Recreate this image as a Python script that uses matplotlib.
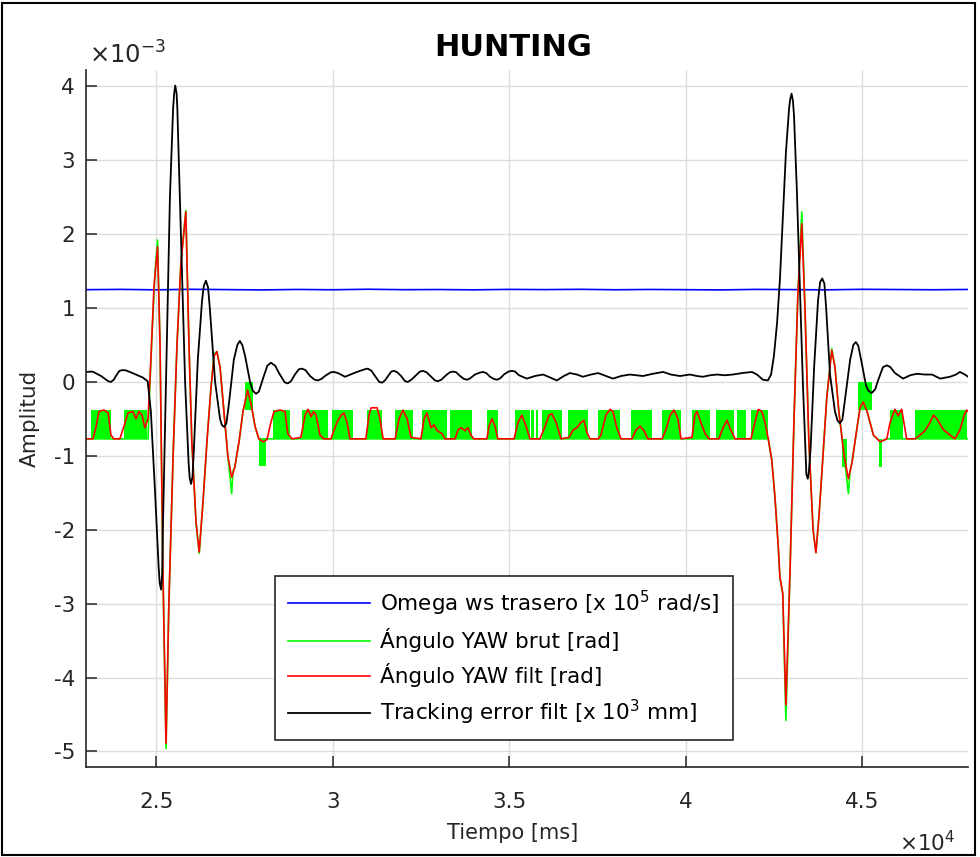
import matplotlib
matplotlib.use("Agg")
import matplotlib.pyplot as plt
from matplotlib.ticker import FuncFormatter, FixedLocator
from matplotlib.patches import Rectangle

plt.rcParams['font.family'] = ['DejaVu Sans']
plt.rcParams['mathtext.fontset'] = 'dejavusans'

# amplitudes below are given in units of 1e-3
UNIT = 1e-3

# Omega ws trasero [x 1e5 rad/s]
omega_t = [23000, 24000, 25000, 26000, 27000, 28000, 29000, 30000, 31000,
           32000, 33000, 34000, 35000, 36000, 37000, 38000, 39000, 40000,
           41000, 42000, 43000, 44000, 45000, 46000, 47000, 48000]
omega_v = [1.248, 1.252, 1.246, 1.253, 1.249, 1.245, 1.251, 1.247, 1.254,
           1.248, 1.250, 1.246, 1.252, 1.249, 1.253, 1.247, 1.251, 1.248,
           1.245, 1.252, 1.249, 1.246, 1.253, 1.250, 1.247, 1.251]

# Angulo YAW bruto [rad]: event excursions of the raw signal
yaw_raw_t = [23000, 24770, 24810, 24880, 24970, 25040, 25110, 25190, 25280,
             25360, 25480, 25590, 25700, 25840, 25930, 26010, 26130, 26220,
             26330, 26440, 26550, 26640, 26720, 26810, 26920, 27030, 27140,
             27180, 27230, 27350, 27460, 27590, 27690, 27800, 27910, 42340,
             42440, 42530, 42620, 42670, 42750, 42840, 42960, 43070, 43180,
             43290, 43380, 43490, 43610, 43690, 43780, 43890, 44000, 44140,
             44230, 44340, 44490, 44610, 44660, 44710, 44830, 44940, 45030,
             45140, 45320, 45510, 45700, 48000]
yaw_raw_v = [-0.77, -0.77, -0.20, 0.60, 1.50, 1.92, 0.50, -2.50, -4.96,
             -3.00, -1.00, 0.50, 1.60, 2.32, 0.50, -0.80, -1.90, -2.32,
             -1.60, -0.80, -0.10, 0.38, 0.41, 0.20, -0.40, -1.00, -1.51,
             -1.20, -1.15, -0.80, -0.40, -0.11, -0.30, -0.60, -0.77, -0.77,
             -1.06, -1.56, -2.20, -2.64, -2.86, -4.58, -2.50, -0.50, 1.20,
             2.30, 1.00, -0.80, -2.00, -2.31, -1.80, -1.00, -0.20, 0.45,
             0.20, -0.40, -1.00, -1.51, -1.20, -1.10, -0.70, -0.35, -0.27,
             -0.40, -0.72, -0.81, -0.77, -0.77]

# stretches where the raw yaw toggles between two quantisation levels
toggle_start = [23150, 24090, 28310, 29130, 29980, 30970, 31770, 32530, 33320,
                34370, 35170, 35620, 35760, 35930, 36670, 37520, 38450, 39330,
                40180, 40860, 41450, 41850, 45790, 46500,
                27520, 27910, 44430, 44880, 45480]
toggle_end = [23720, 24740, 28790, 29870, 30580, 31400, 32280, 33240, 33950,
              34680, 35590, 35700, 35820, 36500, 37230, 38140, 39050, 39870,
              40690, 41370, 41710, 42340, 46160, 47970,
              27740, 28110, 44570, 45280, 45560]
toggle_low = [-0.77] * 24 + [-0.38, -1.14, -1.15, -0.38, -1.15]
toggle_high = [-0.38] * 24 + [0.00, -0.77, -0.77, 0.00, -0.77]

# Angulo YAW filtrado [rad]
yaw_filt_t = [23000, 23210, 23300, 23380, 23520, 23640, 23720, 23800, 23970,
              24090, 24200, 24340, 24430, 24510, 24600, 24680, 24770, 24850,
              24940, 25040, 25110, 25190, 25280, 25360, 25480, 25590, 25700,
              25840, 25930, 26010, 26130, 26220, 26330, 26440, 26550, 26640,
              26720, 26810, 26920, 27030, 27140, 27230, 27350, 27460, 27590,
              27690, 27800, 27910, 28030, 28140, 28250, 28340, 28510, 28650,
              28730, 28850, 29100, 29220, 29300, 29390, 29460, 29530, 29640,
              29750, 29950, 30040, 30120, 30240, 30320, 30410, 30490, 30940,
              31030, 31090, 31260, 31340, 31430, 31770, 31880, 31990, 32110,
              32220, 32500, 32590, 32670, 32790, 32870, 32960, 33100, 33180,
              33470, 33550, 33640, 33750, 33830, 33920, 34000, 34370, 34430,
              34510, 34600, 34680, 35140, 35250, 35360, 35480, 35590, 35870,
              36020, 36130, 36210, 36330, 36470, 36700, 36810, 36920, 37030,
              37120, 37200, 37290, 37520, 37600, 37740, 37860, 37940, 38050,
              38170, 38480, 38590, 38710, 38820, 38930, 39330, 39440, 39560,
              39670, 39780, 39870, 40180, 40260, 40320, 40430, 40550, 40660,
              40940, 41060, 41170, 41280, 41400, 41850, 41960, 42060, 42160,
              42250, 42340, 42440, 42530, 42620, 42670, 42750, 42840, 42960,
              43070, 43180, 43290, 43380, 43490, 43610, 43690, 43780, 43890,
              44000, 44140, 44230, 44340, 44490, 44610, 44710, 44830, 44940,
              45030, 45140, 45320, 45510, 45700, 45790, 45930, 46020, 46120,
              46260, 46500, 46640, 46780, 46920, 47020, 47120, 47290, 47490,
              47630, 47770, 47890, 47960, 48000]
yaw_filt_v = [-0.77, -0.77, -0.60, -0.40, -0.38, -0.42, -0.72, -0.77, -0.77,
              -0.60, -0.42, -0.40, -0.50, -0.40, -0.45, -0.62, -0.50, 0.30,
              1.30, 1.83, 0.50, -2.50, -4.89, -3.00, -1.00, 0.50, 1.60,
              2.30, 0.50, -0.80, -1.90, -2.30, -1.60, -0.80, -0.10, 0.35,
              0.41, 0.20, -0.40, -1.00, -1.29, -1.15, -0.80, -0.40, -0.11,
              -0.30, -0.60, -0.77, -0.81, -0.78, -0.55, -0.40, -0.38, -0.40,
              -0.70, -0.77, -0.75, -0.45, -0.37, -0.47, -0.40, -0.45, -0.72,
              -0.77, -0.77, -0.65, -0.55, -0.45, -0.42, -0.55, -0.77, -0.77,
              -0.45, -0.35, -0.35, -0.50, -0.77, -0.77, -0.50, -0.38, -0.50,
              -0.75, -0.77, -0.50, -0.42, -0.62, -0.58, -0.66, -0.70, -0.77,
              -0.77, -0.65, -0.62, -0.66, -0.62, -0.72, -0.77, -0.77, -0.60,
              -0.50, -0.60, -0.77, -0.77, -0.55, -0.45, -0.60, -0.77, -0.77,
              -0.60, -0.45, -0.43, -0.55, -0.77, -0.75, -0.65, -0.62, -0.55,
              -0.52, -0.68, -0.77, -0.77, -0.72, -0.45, -0.37, -0.40, -0.62,
              -0.77, -0.77, -0.65, -0.60, -0.66, -0.77, -0.77, -0.65, -0.45,
              -0.38, -0.50, -0.77, -0.75, -0.45, -0.40, -0.55, -0.70, -0.77,
              -0.77, -0.62, -0.52, -0.65, -0.77, -0.77, -0.55, -0.37, -0.40,
              -0.55, -0.77, -1.06, -1.56, -2.20, -2.64, -2.86, -4.37, -2.50,
              -0.50, 1.20, 2.14, 1.00, -0.80, -2.00, -2.31, -1.80, -1.00,
              -0.20, 0.43, 0.20, -0.40, -1.00, -1.31, -1.10, -0.70, -0.35,
              -0.27, -0.40, -0.72, -0.81, -0.77, -0.55, -0.37, -0.46, -0.37,
              -0.77, -0.77, -0.72, -0.66, -0.55, -0.45, -0.50, -0.64, -0.72,
              -0.77, -0.65, -0.45, -0.38, -0.40]

# Tracking error filtrado [x 1e3 mm]
track_t = [23000, 23200, 23440, 23640, 23720, 23800, 23860, 23960, 24050,
           24150, 24330, 24620, 24760, 24850, 24970, 25070, 25100, 25140,
           25170, 25190, 25280, 25390, 25480, 25510, 25540, 25580, 25600,
           25700, 25820, 25920, 25950, 25990, 26030, 26070, 26180, 26300,
           26350, 26410, 26470, 26520, 26670, 26810, 26860, 26930, 26990,
           27060, 27200, 27300, 27370, 27440, 27520, 27660, 27740, 27830,
           27910, 28030, 28150, 28250, 28370, 28480, 28640, 28730, 28820,
           28930, 29040, 29130, 29230, 29360, 29490, 29580, 29680, 29810,
           29950, 30040, 30150, 30350, 30660, 30900, 31000, 31100, 31200,
           31320, 31400, 31480, 31570, 31660, 31740, 31830, 31940, 32050,
           32130, 32230, 32360, 32470, 32560, 32660, 32790, 32900, 32980,
           33080, 33210, 33320, 33410, 33500, 33610, 33720, 33810, 33900,
           34030, 34160, 34260, 34350, 34460, 34570, 34660, 34750, 34850,
           34980, 35080, 35170, 35280, 35500, 35730, 35960, 36160, 36350,
           36550, 36720, 36920, 37090, 37320, 37520, 37740, 37940, 38170,
           38420, 38620, 38790, 39070, 39360, 39580, 39840, 40120, 40320,
           40490, 40690, 40890, 41110, 41340, 41600, 41880, 42020, 42190,
           42330, 42420, 42500, 42590, 42670, 42760, 42840, 42930, 42960,
           43000, 43040, 43070, 43150, 43240, 43320, 43400, 43420, 43460,
           43490, 43540, 43640, 43750, 43810, 43870, 43930, 43980, 44090,
           44230, 44300, 44370, 44440, 44510, 44660, 44750, 44820, 44890,
           44970, 45110, 45180, 45270, 45370, 45450, 45590, 45700, 45800,
           45930, 46160, 46360, 46550, 46780, 46980, 47210, 47490, 47660,
           47770, 47910, 48000]
track_v = [0.135, 0.14, 0.08, 0.01, 0.00, 0.03, 0.08, 0.15, 0.16,
           0.155, 0.12, 0.06, 0.01, -0.40, -1.50, -2.50, -2.72, -2.81,
           -2.60, -2.00, 0.00, 2.50, 3.70, 3.90, 4.01, 3.90, 3.70,
           2.00, 0.00, -1.10, -1.30, -1.38, -1.28, -0.90, 0.30, 1.10,
           1.30, 1.37, 1.28, 1.00, 0.00, -0.50, -0.58, -0.61, -0.56,
           -0.30, 0.30, 0.50, 0.555, 0.50, 0.35, 0.00, -0.12, -0.16,
           -0.13, 0.05, 0.22, 0.26, 0.22, 0.12, -0.005, -0.02, 0.01,
           0.10, 0.17, 0.18, 0.16, 0.08, 0.03, 0.02, 0.04, 0.09,
           0.13, 0.135, 0.12, 0.07, 0.13, 0.17, 0.18, 0.15, 0.08,
           0.00, -0.01, 0.02, 0.08, 0.14, 0.15, 0.13, 0.08, 0.01,
           0.00, 0.03, 0.09, 0.14, 0.15, 0.13, 0.07, 0.02, 0.01,
           0.03, 0.09, 0.13, 0.14, 0.13, 0.08, 0.04, 0.03, 0.05,
           0.10, 0.125, 0.135, 0.12, 0.07, 0.04, 0.03, 0.05, 0.10,
           0.14, 0.15, 0.14, 0.09, 0.045, 0.08, 0.10, 0.06, 0.02,
           0.08, 0.12, 0.10, 0.07, 0.10, 0.12, 0.08, 0.045, 0.08,
           0.10, 0.09, 0.08, 0.11, 0.135, 0.10, 0.08, 0.10, 0.08,
           0.07, 0.09, 0.10, 0.09, 0.10, 0.12, 0.135, 0.10, 0.03,
           0.02, 0.10, 0.35, 0.80, 1.38, 2.30, 3.10, 3.70, 3.82,
           3.90, 3.80, 3.60, 2.60, 1.20, 0.00, -1.00, -1.25, -1.31,
           -1.22, -0.90, 0.20, 1.10, 1.35, 1.40, 1.33, 1.00, 0.10,
           -0.40, -0.52, -0.56, -0.51, -0.25, 0.30, 0.50, 0.54, 0.49,
           0.30, -0.05, -0.12, -0.15, -0.10, 0.02, 0.20, 0.225, 0.20,
           0.12, 0.045, 0.09, 0.11, 0.10, 0.10, 0.045, 0.07, 0.10,
           0.135, 0.10, 0.07]

x_ticks = [25000, 30000, 35000, 40000, 45000]
y_ticks = [-5, -4, -3, -2, -1, 0, 1, 2, 3, 4]

labels = ['Omega ws trasero [x 10$^5$ rad/s]',
          'Ángulo YAW brut [rad]',
          'Ángulo YAW filt [rad]',
          'Tracking error filt [x 10$^3$ mm]']

INK = '#262626'
FS = 15.5

fig = plt.figure(figsize=(9.8, 8.57), dpi=100)
ax = fig.add_axes([0.0873, 0.1050, 0.9005, 0.8133])

def scaled(vals):
    return [v * UNIT for v in vals]

ax.plot(omega_t, scaled(omega_v), color='#0000ff', lw=1.2, label=labels[0])
for t0, t1, lo, hi in zip(toggle_start, toggle_end, toggle_low, toggle_high):
    ax.fill_between([t0, t1], lo * UNIT, hi * UNIT, color='#00ff00', lw=0)
ax.plot(yaw_raw_t, scaled(yaw_raw_v), color='#00ff00', lw=1.2, label=labels[1])
ax.plot(yaw_filt_t, scaled(yaw_filt_v), color='#ff0000', lw=1.2, label=labels[2])
ax.plot(track_t, scaled(track_v), color='#000000', lw=1.3,
        solid_joinstyle='round', label=labels[3])

ax.set_xlim(23000, 48000)
ax.set_ylim(-5.21 * UNIT, 4.22 * UNIT)
ax.xaxis.set_major_locator(FixedLocator(x_ticks))
ax.yaxis.set_major_locator(FixedLocator([v * UNIT for v in y_ticks]))
ax.xaxis.set_major_formatter(FuncFormatter(lambda v, p: f"{v / 1e4:g}"))
ax.yaxis.set_major_formatter(FuncFormatter(lambda v, p: f"{round(v / UNIT, 6):g}"))

ax.grid(True, color='#dcdcdc', lw=1.0)
ax.set_axisbelow(True)
for side in ('top', 'right'):
    ax.spines[side].set_visible(False)
for side in ('left', 'bottom'):
    ax.spines[side].set_color(INK)
    ax.spines[side].set_linewidth(1.2)
ax.tick_params(direction='in', length=8, width=1.1, colors=INK, labelsize=FS)
ax.tick_params(axis='x', pad=18)
ax.tick_params(axis='y', pad=7.5)

ax.text(0.4844, 1.033, 'HUNTING', transform=ax.transAxes, fontsize=22,
        fontweight='bold', color='#000000', ha='center', va='center')
ax.set_xlabel('Tiempo [ms]', fontsize=15, color=INK)
ax.xaxis.set_label_coords(0.4844, -0.080)
ax.set_ylabel('Amplitud', fontsize=FS, color=INK)
ax.yaxis.set_label_coords(-0.0517, 0.5)

ax.text(0.004, 1.009, r'$\times 10^{-3}$', transform=ax.transAxes,
        fontsize=17.5, color=INK, ha='left', va='baseline')
ax.text(0.986, -0.109, r'$\times 10^{4}$', transform=ax.transAxes,
        fontsize=FS, color=INK, ha='right', va='center')

leg = ax.legend(loc='lower left', bbox_to_anchor=(0.2146, 0.0387),
                borderaxespad=0.0, fontsize=FS, handlelength=3.8,
                handletextpad=0.5, labelspacing=0.5, borderpad=0.6,
                fancybox=False, framealpha=1.0, edgecolor=INK)
leg.get_frame().set_linewidth(1.2)

fig.patches.append(Rectangle((0.002, 0.002), 0.993, 0.995,
                             transform=fig.transFigure, fill=False,
                             edgecolor='#000000', lw=1.5))

fig.savefig('out.png', dpi=100)
